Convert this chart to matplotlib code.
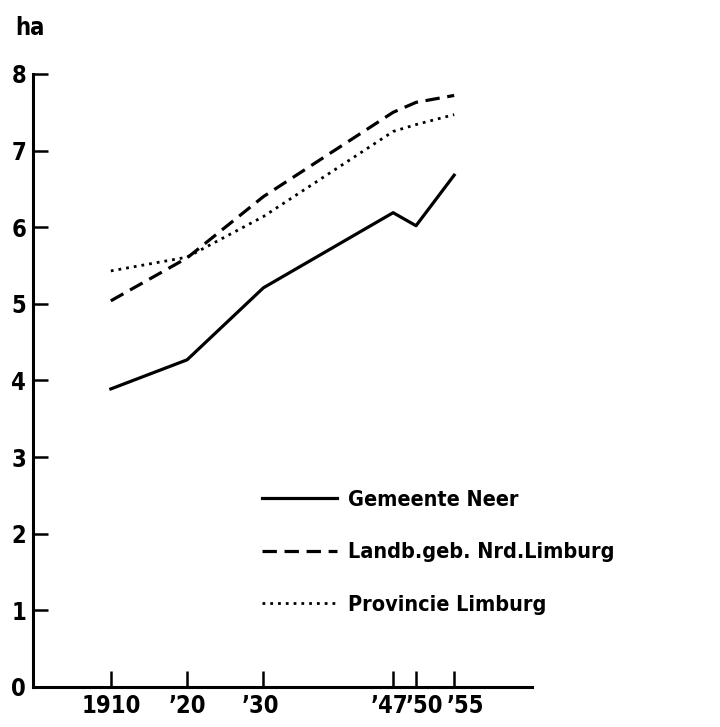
import matplotlib
matplotlib.use("Agg")
from matplotlib import pyplot as plt
from matplotlib.transforms import ScaledTranslation

years = [1910, 1920, 1930, 1947, 1950, 1955]
gemeente_neer = [3.89, 4.27, 5.21, 6.19, 6.02, 6.68]
nrd_limburg = [5.04, 5.6, 6.4, 7.5, 7.63, 7.72]
prov_limburg = [5.43, 5.61, 6.14, 7.25, 7.34, 7.47]

series_labels = ["Gemeente Neer", "Landb.geb. Nrd.Limburg", "Provincie Limburg"]
xtick_labels = ["1910", "\u201920", "\u201930", "\u201947", "\u201950", "\u201955"]
xtick_shift = [0, 0, -3, -4, 8, 11]   # labels are crowded near the end
yticks = [0, 1, 2, 3, 4, 5, 6, 7, 8]

FONT = dict(family="DejaVu Sans", weight="bold", stretch="condensed")


def plot_farm_size():
    fig = plt.figure(figsize=(7.2, 7.27), dpi=100)
    ax = fig.add_axes([33 / 720, 40 / 727, 499 / 720, 613 / 727])

    l1, = ax.plot(years, gemeente_neer, color="black", lw=2.3, solid_joinstyle="round")
    l2, = ax.plot(years, nrd_limburg, color="black", lw=2.3, linestyle=(0, (4.5, 2.4)))
    l3, = ax.plot(years, prov_limburg, color="black", lw=2.0, linestyle=(0, (1, 1.8)))

    ax.set_xlim(1899.8, 1965.2)
    ax.set_ylim(0, 8)

    for side in ["top", "right"]:
        ax.spines[side].set_visible(False)
    for side in ["left", "bottom"]:
        ax.spines[side].set_linewidth(2.2)

    ax.set_xticks(years)
    ax.set_xticklabels(xtick_labels)
    ax.set_yticks(yticks)
    ax.set_yticklabels([str(v) for v in yticks])
    ax.tick_params(axis="both", direction="in", width=1.8, labelsize=17, pad=5)
    ax.tick_params(axis="x", length=11.5)
    ax.tick_params(axis="y", length=11)
    for lab in ax.get_xticklabels() + ax.get_yticklabels():
        lab.set_fontweight("bold")
        lab.set_fontstretch("condensed")
    for lab, dx in zip(ax.get_xticklabels(), xtick_shift):
        lab.set_transform(lab.get_transform() + ScaledTranslation(dx / 100, 0, fig.dpi_scale_trans))

    fig.text(15 / 720, 1 - 35 / 727, "ha", fontsize=17, ha="left", va="baseline", **FONT)

    leg = ax.legend([l1, l2, l3], series_labels, loc="upper left",
                    bbox_to_anchor=(262 / 720, 1 - 490 / 727), bbox_transform=fig.transFigure,
                    frameon=False, borderpad=0, borderaxespad=0, handlelength=3.5,
                    handletextpad=0.5, labelspacing=1.5,
                    prop=dict(size=15.5, weight="bold", stretch="condensed"))
    for t in leg.get_texts():
        t.set_fontfamily("DejaVu Sans")

    fig.savefig("out.png", dpi=100)


def main():
    plot_farm_size()


if __name__ == '__main__':
    main()
